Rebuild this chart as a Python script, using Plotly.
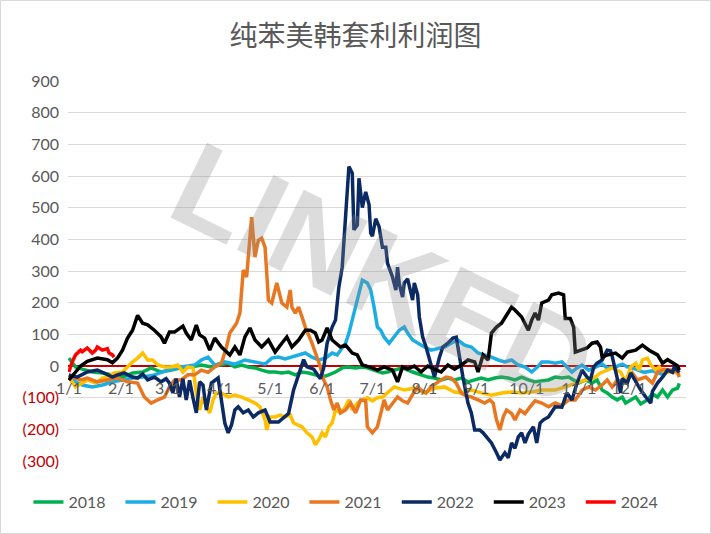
import pandas as pd
import plotly.graph_objects as go

# ---------------- data (day offset from Jan 1, value) ----------------
month_labels = ["1/1", "2/1", "3/1", "4/1", "5/1", "6/1", "7/1", "8/1", "9/1", "10/1", "11/1", "12/1"]
series_names = ["2018", "2019", "2020", "2021", "2022", "2023", "2024"]

d2018 = [0, 4, 8, 14, 20, 26, 32, 38, 44, 49, 55, 61, 67, 73, 79, 85, 91, 95, 99, 103, 107, 111, 115, 119, 123, 127,
         131, 135, 139, 143, 147, 151, 155, 159, 163, 166, 171, 175, 178, 182, 187, 190, 199, 205, 210, 214, 218, 222,
         226, 230, 234, 238, 242, 246, 250, 254, 258, 262, 266, 270, 274, 278, 282, 286, 290, 294, 298, 301, 304, 308,
         312, 315, 318, 321, 324, 327, 330, 332, 335, 338, 341, 345, 348, 351, 354, 357, 360, 363, 364]
v2018 = [25, -3, -10, -19, -22, -28, -35, -22, -19, -6, -19, -13, -6, -3, 3, -3, 3, 9, -3, 3, -3, -6, -13, -19, -19, -22,
         -19, -28, -19, -22, -28, -35, -28, -19, -6, -3, -6, -3, -6, -13, -22, -19, -6, -19, -28, -35, -38, -44,
         -38, -44, -38, -50, -44, -38, -44, -38, -35, -38, -44, -35, -44, -50, -47, -44, -35, -38, -35, -44, -54, -44,
         -54, -44, -76, -85, -98, -107, -98, -117, -107, -98, -120, -107, -88, -98, -76, -98, -76, -70, -55]

d2019 = [0, 4, 8, 14, 20, 26, 32, 38, 44, 51, 59, 67, 75, 79, 83, 87, 93, 99, 105, 111, 117, 121, 125, 129, 133, 137,
         141, 145, 149, 153, 157, 160, 165, 167, 169, 171, 173, 174, 175, 178, 180, 182, 184, 186, 188, 191, 194, 197,
         200, 202, 205, 208, 212, 216, 220, 224, 228, 232, 236, 240, 244, 248, 252, 256, 260, 264, 268, 272, 276, 280,
         282, 286, 290, 294, 297, 300, 303, 306, 310, 314, 318, 321, 326, 330, 333, 338, 343, 348, 353, 358, 364]
v2019 = [-30, -50, -60, -66, -60, -50, -44, -38, -35, -28, -13, -3, 3, 19, 28, 3, 13, 6, 19, 13, 6, 25, 28, 22, 28, 35,
         41, 28, 19, 25, 41, 35, 72, 104, 145, 186, 230, 255, 271, 262, 240, 186, 123, 113, 91, 72, 91, 113,
         123, 104, 82, 72, 60, 50, 55, 60, 72, 82, 66, 60, 41, 35, 28, 19, 13, 19, 3, -3, -19, 0,
         13, 13, 9, 13, -3, -19, -6, 3, -13, -3, 6, -6, -3, 6, -3, -10, -20, -15, -25, -15, -20]

d2020 = [0, 4, 8, 11, 16, 20, 23, 27, 32, 35, 38, 41, 44, 47, 50, 53, 57, 61, 65, 68, 71, 74, 76, 78, 80, 82, 84, 86, 88,
         91, 95, 99, 103, 107, 111, 114, 117, 118, 120, 123, 126, 129, 132, 134, 136, 139, 142, 145, 147, 149, 151, 153,
         155, 157, 159, 162, 165, 167, 169, 172, 175, 178, 181, 184, 187, 191, 194, 200, 206, 212, 218, 224, 230, 234,
         240, 246, 252, 258, 264, 270, 276, 282, 290, 296, 302, 308, 313, 317, 321, 324, 329, 332, 335, 338, 340, 342,
         345, 347, 350, 352, 355, 360, 363, 364]
v2020 = [-35, -66, -54, -44, -54, -38, -35, -22, -19, -3, 13, 25, 41, 19, 19, 3, -3, -3, 3, -19, -3, -6, -85, -139, -98,
         -129, -148, -107, -85, -85, -98, -92, -98, -107, -117, -129, -170, -202, -161, -161, -155, -161, -155, -180,
         -186, -192, -211, -224, -249, -233, -211, -224, -192, -180, -139, -148, -129, -107, -139, -117, -107, -100,
         -110, -100, -98, -80, -66, -76, -70, -85, -70, -66, -82, -85, -76, -85, -92, -85, -82, -85, -82, -76, -76, -66,
         -54, -44, -38, -22, -13, -6, -19, -50, -3, 9, -13, 19, 25, 3, -13, -3, -19, -19, -22, -28]

d2021 = [0, 7, 11, 17, 23, 29, 35, 41, 45, 49, 53, 57, 60, 63, 67, 71, 75, 79, 83, 87, 91, 94, 96, 100, 102, 104, 106,
         108, 109, 111, 113, 115, 117, 118, 119, 121, 124, 127, 130, 132, 133, 135, 137, 139, 141, 145, 148, 150, 152,
         154, 156, 158, 160, 162, 165, 168, 171, 174, 177, 178, 181, 184, 186, 188, 190, 193, 196, 199, 202, 205, 208,
         210, 213, 216, 219, 222, 225, 228, 231, 234, 237, 240, 244, 248, 251, 253, 255, 257, 259, 261, 264, 266, 269,
         272, 275, 278, 282, 286, 290, 294, 298, 302, 306, 310, 314, 318, 321, 324, 327, 332, 336, 339, 344, 348, 351,
         355, 360, 363, 364]
v2021 = [-30, -44, -38, -50, -44, -38, -50, -54, -98, -117, -107, -98, -66, -44, -44, -28, -28, -13, -20, -3, 9, 60, 104,
         135, 167, 303, 281, 397, 470, 344, 397, 404, 375, 293, 208, 199, 262, 199, 186, 240, 186, 167, 186, 155, 123,
         72, 28, -3, -44, -66, -107, -139, -117, -148, -139, -117, -148, -107, -110, -192, -211, -192, -150, -107,
         -139, -120, -98, -110, -117, -90, -66, -76, -85, -66, -54, -44, -35, -38, -54, -85, -95, -98, -107, -117,
         -107, -117, -170, -202, -161, -139, -150, -170, -139, -150, -129, -110, -117, -129, -117, -125, -107, -107,
         -76, -66, -76, -60, -44, -66, -44, -54, -22, -44, -35, -54, -19, -10, -13, -19, -35]

d2022 = [0, 5, 11, 17, 21, 26, 29, 33, 38, 41, 44, 47, 51, 55, 58, 60, 62, 64, 66, 68, 70, 72, 74, 76, 78, 80, 82, 85,
         89, 92, 93, 95, 97, 99, 101, 104, 107, 110, 113, 117, 120, 125, 129, 131, 134, 136, 138, 140, 142, 146, 150,
         152, 154, 157, 159, 161, 163, 164, 166, 167, 169, 170, 172, 173, 175, 177, 179, 180, 181, 183, 185, 187, 189,
         190, 193, 195, 196, 197, 199, 200, 202, 205, 206, 208, 209, 211, 213, 215, 217, 218, 221, 223, 226, 229, 231,
         233, 235, 238, 240, 242, 245, 247, 250, 252, 255, 257, 260, 262, 264, 266, 268, 270, 272, 274, 277, 279, 281,
         283, 286, 290, 294, 297, 300, 303, 306, 309, 311, 313, 315, 318, 321, 323, 324, 327, 329, 330, 333, 335, 338,
         341, 344, 347, 348, 351, 354, 357, 360, 361, 364]
v2022 = [-28, -35, -19, -13, -22, -35, -28, -22, -35, -38, -25, -44, -35, -50, -40, -54, -85, -40, -98, -40, -107, -45,
         -100, -148, -50, -60, -139, -54, -38, -139, -180, -211, -186, -139, -129, -148, -139, -161, -148, -139, -177,
         -177, -161, -150, -76, -44, -13, 20, -3, -10, -40, -5, 72, 123, 145, 249, 312, 397, 555, 630, 609, 430, 445,
         593, 500, 550, 510, 420, 410, 465, 440, 375, 375, 325, 281, 240, 312, 260, 218, 262, 275, 208, 262, 225, 155,
         91, 60, 20, -25, -35, 28, 60, 72, 88, 91, 19, -35, -117, -148, -202, -202, -211, -233, -243, -274, -297,
         -274, -290, -243, -260, -224, -211, -243, -215, -192, -243, -180, -170, -161, -129, -130, -85, -107, -54, -13,
         -35, -44, -3, 9, 19, 50, 48, 30, -35, -85, -40, -54, -22, -50, -76, -98, -117, -80, -54, -35, -13, -20, -3,
         -20]

d2023 = [0, 7, 11, 17, 23, 26, 29, 32, 35, 38, 41, 44, 47, 51, 55, 57, 60, 63, 68, 70, 73, 76, 78, 81, 84, 87, 91, 93,
         96, 99, 102, 105, 108, 111, 115, 119, 123, 127, 130, 133, 137, 141, 144, 147, 149, 151, 154, 157, 162, 165,
         169, 172, 175, 181, 184, 188, 193, 196, 199, 202, 206, 210, 214, 218, 222, 226, 230, 234, 238, 242, 244, 247,
         250, 252, 255, 258, 262, 264, 266, 270, 274, 276, 278, 280, 282, 286, 288, 292, 295, 296, 299, 301, 302, 306,
         309, 312, 315, 317, 318, 321, 326, 330, 333, 338, 342, 346, 351, 354, 357, 360, 363, 364]
v2023 = [-45, 0, 15, 25, 20, 10, 25, 50, 88, 113, 160, 135, 130, 113, 92, 72, 107, 107, 126, 104, 82, 129, 98, 88, 50,
         88, 60, 50, 35, 60, 35, 92, 120, 82, 60, 82, 44, 72, 92, 60, 82, 113, 113, 104, 76, 82, 120, 82, 60, 66, 41,
         35, 3, -6, -13, -3, -13, -50, -3, -10, 0, -19, 0, -10, -19, 3, -10, 3, 19, 13, -19, 35, 19, 104, 123, 135,
         167, 186, 177, 155, 113, 145, 167, 145, 199, 208, 225, 230, 225, 150, 150, 123, 44, 50, 57, 72, 76, 60, 28,
         35, 41, 25, 44, 50, 66, 50, 35, 9, 20, 10, 0, -13]

d2024 = [0, 2, 4, 7, 8, 11, 14, 16, 17, 20, 23, 24, 26, 27]
v2024 = [-19, 13, 35, 50, 45, 57, 41, 50, 60, 50, 55, 41, 35, 28]

series_days = [d2018, d2019, d2020, d2021, d2022, d2023, d2024]
series_vals = [v2018, v2019, v2020, v2021, v2022, v2023, v2024]
colors = ["#00B050", "#1CADE4", "#FFC000", "#E87722", "#0B2A63", "#000000", "#FF0000"]

base = pd.Timestamp("2023-01-01")
y_ticks = list(range(-300, 901, 100))

fig = go.Figure()
for i, (name, days, vals, col) in enumerate(zip(series_names, series_days, series_vals, colors)):
    fig.add_trace(go.Scatter(
        x=[base + pd.Timedelta(days=d) for d in days], y=vals, name=name, mode="lines",
        line=dict(color=col, width=3.5), hoverinfo="skip",
        legend="legend" if i < 4 else "legend2"))

tick_text = [(f'<span style="color:#C00000">({abs(v)})</span>' if v < 0 else str(v)) for v in y_ticks]
month_starts = pd.date_range(base, periods=12, freq="MS")

legend_style = dict(orientation="h", yanchor="middle", y=-0.108, xanchor="left",
                    font=dict(size=16, color="#595959"), entrywidth=47, entrywidthmode="pixels",
                    bgcolor="rgba(0,0,0,0)")

fig.update_layout(
    width=711, height=534,
    margin=dict(l=68, r=25, t=81, b=73, autoexpand=False),
    paper_bgcolor="white", plot_bgcolor="white",
    font=dict(family="Lato, Noto Sans", size=16, color="#595959"),
    title=dict(text="纯苯美韩套利利润图", x=0.5, xanchor="center", y=0.933, yanchor="middle",
               font=dict(family="Noto Sans CJK SC", size=28, color="#595959")),
    showlegend=True,
    legend=dict(legend_style, x=-0.064),
    legend2=dict(legend_style, x=0.532),
    xaxis=dict(type="date", range=[base - pd.Timedelta(hours=12), base + pd.Timedelta(days=368)],
               tickvals=list(month_starts), ticktext=month_labels, showgrid=False, zeroline=False,
               showline=False, ticks="", anchor="free", position=0.25, ticklabelstandoff=11,
               tickfont=dict(size=16, color="#595959")),
    yaxis=dict(range=[-300, 900], tickvals=y_ticks, ticktext=tick_text, showgrid=True, gridcolor="#D9D9D9",
               gridwidth=1, zeroline=True, zerolinecolor="#C00000", zerolinewidth=1.5, ticks="",
               showline=False, ticklabelstandoff=8, tickfont=dict(size=16, color="#595959")),
    annotations=[
        dict(text="<b>LINKED</b>", xref="paper", yref="paper", x=0.512, y=0.49, showarrow=False,
             textangle=26, xanchor="center", yanchor="middle",
             font=dict(family="Liberation Sans", size=121, color="rgba(140,140,140,0.3)")),
    ],
    shapes=[
        dict(type="rect", xref="paper", yref="paper", x0=-0.1092, x1=1.0396, y0=-0.1908, y1=1.2118,
             line=dict(color="#D9D9D9", width=1), fillcolor="rgba(0,0,0,0)", layer="below"),
    ],
)

fig.write_html("out.html", config={"displayModeBar": False},
               post_script="document.body.style.margin='0';document.body.style.overflow='hidden';")
